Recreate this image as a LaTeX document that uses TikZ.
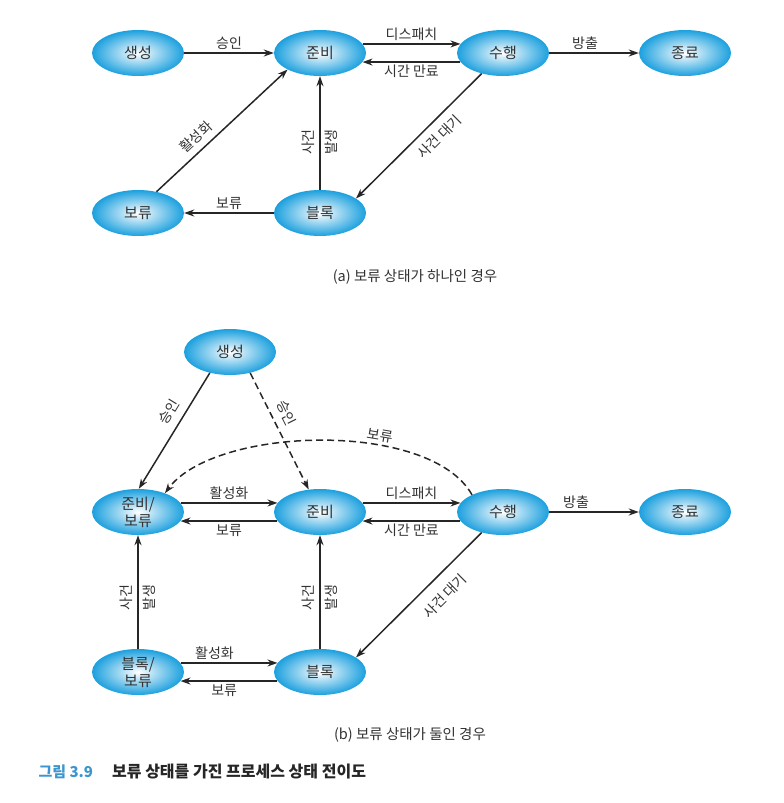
\documentclass[tikz,border=0pt]{standalone}
\usepackage{fontspec}
\setmainfont{Noto Sans CJK KR}
\usetikzlibrary{positioning,shapes.geometric,arrows.meta}
\definecolor{procblue}{RGB}{28,160,222}
\definecolor{capblue}{RGB}{60,150,205}
\definecolor{txtgray}{RGB}{50,50,50}

\begin{document}
\begin{tikzpicture}[x=1pt, y=-1pt,
    state/.style={ellipse, minimum width=92pt, minimum height=46pt, inner sep=0pt,
      inner color=white, outer color=procblue, text=txtgray, align=center,
      font=\fontsize{15}{17}\selectfont},
    trans/.style={line width=1.5pt, draw=black!85, -{Stealth[length=10pt,width=7pt]}},
    lbl/.style={text=txtgray, font=\fontsize{14}{15}\selectfont, inner sep=2.5pt},
    twolbl/.style={lbl, rotate=90, align=center, font=\fontsize{14}{23}\selectfont},
    captext/.style={text=txtgray, font=\fontsize{14.5}{16}\selectfont}]
  \useasboundingbox (0,0) rectangle (784,803);

  % (a) one suspend state
  \node[state] (a-new) at (138,53) {생성};
  \node[state] (a-ready) at (320,53) {준비};
  \node[state] (a-run) at (503,53) {수행};
  \node[state] (a-exit) at (685,53) {종료};
  \node[state] (a-susp) at (138,213) {보류};
  \node[state] (a-block) at (320,213) {블록};

  \draw[trans] (a-new) -- node[lbl, above] {승인} (a-ready);
  \draw[trans] (a-ready.12) -- node[lbl, above] {디스패치} (a-run.168);
  \draw[trans] (a-run.192) -- node[lbl, below] {시간 만료} (a-ready.-12);
  \draw[trans] (a-run) -- node[lbl, above, pos=0.4] {방출} (a-exit);
  \draw[trans] (a-susp.49) -- node[lbl, above, sloped, pos=0.37, inner sep=6pt] {활성화} (a-ready.207);
  \draw[trans] (a-block) -- node[twolbl, pos=0.42] {사건\\발생} (a-ready);
  \draw[trans] (a-run.224) -- node[lbl, below, sloped, pos=0.42, inner sep=8pt] {사건 대기} (a-block.22);
  \draw[trans] (a-block) -- node[lbl, above] {보류} (a-susp);

  \node[captext] (cap-a) at (415,277) {(a) 보류 상태가 하나인 경우};

  % (b) two suspend states
  \node[state] (b-new) at (230,352) {생성};
  \node[state] (b-rs) at (138,512) {준비/\\보류};
  \node[state] (b-ready) at (320,512) {준비};
  \node[state] (b-run) at (503,512) {수행};
  \node[state] (b-exit) at (685,512) {종료};
  \node[state] (b-bs) at (138,672) {블록/\\보류};
  \node[state] (b-block) at (320,672) {블록};

  \draw[trans] (b-new.226) -- node[lbl, above, sloped, pos=0.4, inner sep=7.5pt] {승인} (b-rs.88);
  \draw[trans, dash pattern=on 7pt off 4pt] (b-new.-46) -- node[lbl, above, sloped, pos=0.4, inner sep=7.5pt] {승인} (b-ready);
  \draw[trans, dash pattern=on 7pt off 4pt] (b-run.151) .. controls +(-42,-75) and +(50,-67) .. node[lbl, above, sloped, pos=0.35] {보류} (b-rs.35);
  \draw[trans] (b-rs.12) -- node[lbl, above] {활성화} (b-ready.168);
  \draw[trans] (b-ready.192) -- node[lbl, below] {보류} (b-rs.-12);
  \draw[trans] (b-ready.12) -- node[lbl, above] {디스패치} (b-run.168);
  \draw[trans] (b-run.192) -- node[lbl, below] {시간 만료} (b-ready.-12);
  \draw[trans] (b-run) -- node[lbl, above, pos=0.3] {방출} (b-exit);
  \draw[trans] (b-bs) -- node[twolbl, pos=0.45] {사건\\발생} (b-rs);
  \draw[trans] (b-block) -- node[twolbl, pos=0.45] {사건\\발생} (b-ready);
  \draw[trans] (b-run.224) -- node[lbl, below, sloped, pos=0.4, inner sep=12pt] {사건 대기} (b-block.22);
  \draw[trans] (b-bs.12) -- node[lbl, above, pos=0.35] {활성화} (b-block.168);
  \draw[trans] (b-block.192) -- node[lbl, below, pos=0.55] {보류} (b-bs.-12);

  \node[captext] (cap-b) at (410,735) {(b) 보류 상태가 둘인 경우};

  \node[anchor=west, text=capblue, font=\fontsize{15}{17}\selectfont\bfseries] (fig-num) at (35,772) {그림 3.9};
  \node[right=12pt of fig-num, text=black!85, font=\fontsize{16}{18}\selectfont\bfseries] (fig-title) {보류 상태를 가진 프로세스 상태 전이도};
\end{tikzpicture}
\end{document}
